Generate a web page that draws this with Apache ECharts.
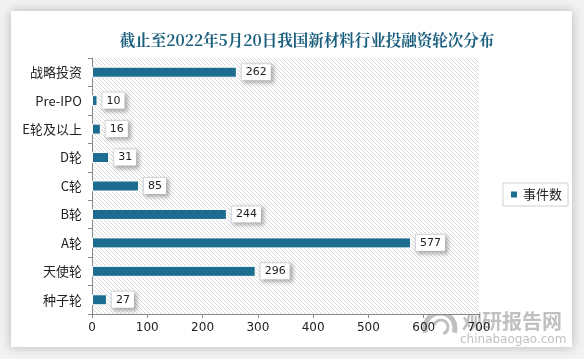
<!DOCTYPE html>
<html><head><meta charset="utf-8">
<script src="https://cdn.jsdelivr.net/npm/echarts@6/dist/echarts.min.js"></script>
<style>html,body{margin:0;padding:0;background:#fff}#c{width:584px;height:359px}</style>
</head><body><div id="c"></div>
<script>
const titleText = '截止至2022年5月20日我国新材料行业投融资轮次分布';
const categories = ['种子轮','天使轮','A轮','B轮','C轮','D轮','E轮及以上','Pre-IPO','战略投资'];
const values = [27, 296, 577, 244, 85, 31, 16, 10, 262];
const seriesName = '事件数';
const xTicks = [0, 100, 200, 300, 400, 500, 600, 700];

// hatch pattern
const pc = document.createElement('canvas');
pc.width = 4; pc.height = 4;
const px = pc.getContext('2d');
px.fillStyle = '#ffffff'; px.fillRect(0,0,4,4);
px.strokeStyle = '#dadada'; px.lineWidth = 1;
px.beginPath();
px.moveTo(0,0); px.lineTo(4,4);
px.moveTo(-2,2); px.lineTo(2,6);
px.moveTo(2,-2); px.lineTo(6,2);
px.stroke();

const wm = 'rgba(130,130,130,0.5)';
const chart = echarts.init(document.getElementById('c'), null, {renderer:'canvas'});
chart.setOption({
  backgroundColor: '#f2f2f2',
  animation: false,
  graphic: [
    {type:'rect', shape:{x:11,y:11,width:561,height:336}, style:{fill:'#fff', shadowBlur:10, shadowColor:'rgba(0,0,0,0.25)'}, z:-10},
    {type:'arc', shape:{cx:440, cy:328, r:15, startAngle:Math.PI*0.9, endAngle:Math.PI*2.1}, style:{stroke:wm, lineWidth:5, fill:null}, z:-1},
    {type:'arc', shape:{cx:441, cy:327, r:7, startAngle:Math.PI*1.1, endAngle:Math.PI*2.4}, style:{stroke:wm, lineWidth:3, fill:null}, z:-1},
    {type:'text', left: 462, top: 311, z:-1, style:{text:'观研报告网', fill:wm, font:'bold 20px "Noto Sans CJK SC"'}},
    {type:'text', left: 460, top: 334, z:-1, style:{text:'chinabaogao.com', fill:wm, font:'12px "DejaVu Sans"'}}
  ],
  title: {
    text: titleText, left: 302, top: 27, textAlign: 'center',
    textStyle: {color:'#1b5f7e', fontSize:15.5, fontWeight:'bold', fontFamily:'"Noto Serif CJK SC","Noto Sans CJK SC",serif'}
  },
  legend: {
    data: [seriesName], orient:'vertical', left: 503, top: 183,
    borderColor:'#d0d0d0', borderWidth:1, padding:[5,6,5,6],
    itemWidth: 8, itemHeight: 8, icon:'rect', itemGap: 4,
    textStyle:{fontSize:13, color:'#222', fontFamily:'"Noto Sans CJK SC"'}
  },
  grid: {left: 92, top: 58, width: 387, height: 256, show: true, borderWidth: 0,
    backgroundColor: {image: pc, repeat: 'repeat'}},
  xAxis: {
    type:'value', min: 0, max: 700, interval: 100,
    axisLine:{show:true, lineStyle:{color:'#888'}},
    axisTick:{show:true, length:4, lineStyle:{color:'#888'}},
    splitLine:{show:false},
    axisLabel:{color:'#222', fontSize:12, margin:8, fontFamily:'"DejaVu Sans"',
      formatter: v => xTicks.includes(v) ? String(v) : ''}
  },
  yAxis: {
    type:'category', data: categories,
    axisLine:{show:true, lineStyle:{color:'#888'}},
    axisTick:{show:true, length:4, lineStyle:{color:'#888'}},
    axisLabel:{color:'#222', fontSize:13, margin:10, fontFamily:'"Noto Sans CJK SC"'}
  },
  series: [{
    name: seriesName, type:'bar', data: values, barWidth: 11,
    itemStyle:{color:'#1d6d90', borderColor:'#fff', borderWidth:1},
    label:{show:true, position:'right', distance:5, color:'#222', fontSize:11,
      fontFamily:'"DejaVu Sans"',
      backgroundColor:'#fff', borderColor:'#d6dde2', borderWidth:1, padding:[3,4,2,4],
      shadowBlur:4, shadowColor:'rgba(0,0,0,0.25)', shadowOffsetX:2, shadowOffsetY:2}
  }]
});
</script></body></html>
